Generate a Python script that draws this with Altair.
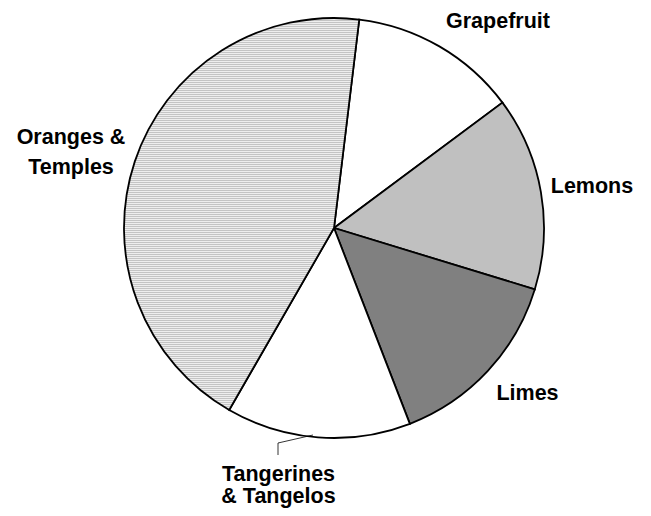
import math
import altair as alt
import pandas as pd

# ---- data ----
names = ["Grapefruit", "Lemons", "Limes", "Tangerines & Tangelos", "Oranges & Temples"]
shares = [12.9, 14.9, 14.4, 14.2, 43.6]
order = [1, 2, 3, 4, 5]
colors = ["#ffffff", "#c0c0c0", "#808080", "#ffffff", "#d8d8d8"]

df = pd.DataFrame({"name": names, "share": shares, "ord": order})

# ---- styles / layout ----
START = math.radians(6.9)
CX, CY, R = 326, 220, 210
FONT = "Liberation Sans"
FS = 21.5

# striped fill for Oranges & Temples (horizontal lines)
N = 196
stops = []
for i in range(N):
    a = i / N
    b = (i + 0.5) / N
    c = (i + 1) / N
    stops += [
        {"offset": a, "color": "#c4c4c4"},
        {"offset": b, "color": "#c4c4c4"},
        {"offset": b, "color": "#eeeeee"},
        {"offset": c, "color": "#eeeeee"},
    ]
stripes = {"gradient": "linear", "x1": 0, "y1": 0, "x2": 0, "y2": 1, "stops": stops}

pie = alt.Chart(df).mark_arc(
    outerRadius=R, stroke="black", strokeWidth=1.8
).encode(
    theta=alt.Theta("share:Q", stack=True,
                    scale=alt.Scale(range=[START, START + 2 * math.pi])),
    order=alt.Order("ord:Q"),
    fill=alt.condition(
        "datum.name === 'Oranges & Temples'",
        alt.value(stripes),
        alt.Fill("name:N", scale=alt.Scale(domain=names, range=colors), legend=None),
    ),
    x=alt.value(CX),
    y=alt.value(CY),
)

label_rows = [
    ("Grapefruit", 490, 20),
    ("Lemons", 584, 185),
    ("Limes", 519.5, 392),
    ("Oranges &", 63, 136),
    ("Temples", 63, 166),
    ("Tangerines", 270.5, 473),
    ("& Tangelos", 270.5, 495),
]

layers = [pie]
for txt, lx, ly in label_rows:
    layers.append(
        alt.Chart(pd.DataFrame({"t": [txt]})).mark_text(
            font=FONT, fontSize=FS, fontWeight="bold", color="black",
            align="center", baseline="alphabetic"
        ).encode(text="t:N", x=alt.value(lx), y=alt.value(ly))
    )

leader_df = pd.DataFrame({"k": [0]})
layers.append(
    alt.Chart(leader_df).mark_rule(color="black", strokeWidth=0.8).encode(
        x=alt.value(305), y=alt.value(427), x2=alt.value(270), y2=alt.value(435)
    )
)
layers.append(
    alt.Chart(leader_df).mark_rule(color="black", strokeWidth=0.8).encode(
        x=alt.value(270), y=alt.value(435), x2=alt.value(270), y2=alt.value(447)
    )
)

chart = alt.layer(*layers).properties(
    width=635, height=500,
    autosize=alt.AutoSizeParams(type="none"),
    padding=0,
).configure_view(stroke=None)

chart.save("out.html", embed_options={"renderer": "svg", "actions": False})
